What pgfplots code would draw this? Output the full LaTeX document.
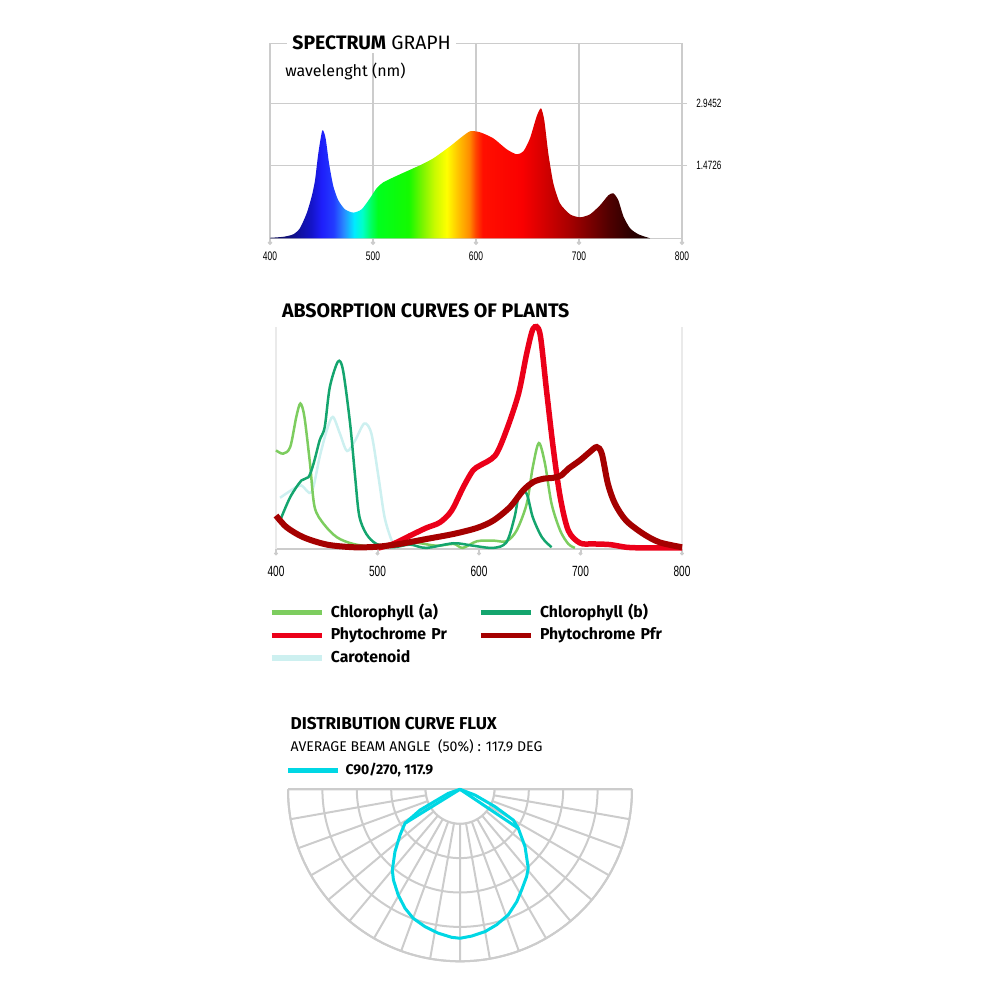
\documentclass[border=0pt]{standalone}
\usepackage{pgfplots}
\pgfplotsset{compat=1.18}
\usepgfplotslibrary{polar}
\usepackage{fontspec}
\setmainfont{Fira Sans}
\newfontfamily\tickfont[FakeStretch=0.68]{Liberation Sans}

\definecolor{gridgray}{RGB}{204,204,204}
\definecolor{faint}{RGB}{234,234,234}
\definecolor{chla}{RGB}{125,205,95}
\definecolor{chlb}{RGB}{20,165,110}
\definecolor{carot}{RGB}{205,240,240}
\definecolor{phyr}{RGB}{235,0,25}
\definecolor{phyfr}{RGB}{165,0,0}
\definecolor{beam}{RGB}{0,215,228}

\definecolor{s400}{RGB}{10,10,80}
\definecolor{s420}{RGB}{15,15,130}
\definecolor{s440}{RGB}{20,20,200}
\definecolor{s450}{RGB}{30,30,250}
\definecolor{s462}{RGB}{35,60,255}
\definecolor{s472}{RGB}{40,140,255}
\definecolor{s482}{RGB}{0,235,255}
\definecolor{s490}{RGB}{0,255,200}
\definecolor{s498}{RGB}{0,255,100}
\definecolor{s505}{RGB}{0,255,30}
\definecolor{s535}{RGB}{20,250,0}
\definecolor{s548}{RGB}{120,245,0}
\definecolor{s560}{RGB}{200,250,0}
\definecolor{s572}{RGB}{255,255,0}
\definecolor{s582}{RGB}{255,200,0}
\definecolor{s592}{RGB}{255,140,0}
\definecolor{s600}{RGB}{255,70,0}
\definecolor{s607}{RGB}{255,15,0}
\definecolor{s645}{RGB}{250,0,0}
\definecolor{s665}{RGB}{215,0,0}
\definecolor{s690}{RGB}{170,0,0}
\definecolor{s710}{RGB}{125,0,0}
\definecolor{s730}{RGB}{80,0,0}
\definecolor{s750}{RGB}{45,0,0}
\definecolor{s770}{RGB}{25,0,0}

\pgfdeclarehorizontalshading{spectrum}{100bp}{%
color(0bp)=(s400); color(25bp)=(s400); color(27.703bp)=(s420);
color(30.405bp)=(s440); color(31.757bp)=(s450); color(33.378bp)=(s462);
color(34.73bp)=(s472); color(36.081bp)=(s482); color(37.162bp)=(s490);
color(38.243bp)=(s498); color(39.189bp)=(s505); color(43.243bp)=(s535);
color(45bp)=(s548); color(46.622bp)=(s560); color(48.243bp)=(s572);
color(49.595bp)=(s582); color(51.216bp)=(s592); color(52.027bp)=(s600);
color(52.973bp)=(s607); color(58.108bp)=(s645); color(60.811bp)=(s665);
color(64.189bp)=(s690); color(66.892bp)=(s710); color(69.595bp)=(s730);
color(72.297bp)=(s750); color(75bp)=(s770); color(100bp)=(s770)}

\begin{document}
\begin{tikzpicture}
\useasboundingbox (0pt,0pt) rectangle (500pt,-500pt);

% ---------------- Spectrum graph ----------------
\begin{axis}[
 at={(135pt,-119.15pt)}, anchor=south west,
 scale only axis, width=206pt, height=97.5pt,
 xmin=400, xmax=800, ymin=0, ymax=195,
 axis line style={draw=gridgray, line width=0.75pt},
 xtick={400,500,600,700,800}, xticklabels={400,500,600,700,800},
 ytick={73,135}, yticklabels={1.4726,2.9452},
 xtick pos=bottom, ytick pos=right, yticklabel pos=right,
 grid=major, major grid style={draw=gridgray, line width=0.75pt},
 tick align=outside, major tick length=2.5pt,
 tick style={draw=gridgray, line width=0.75pt},
 xticklabel style={font=\tickfont\fontsize{6.2}{7}\selectfont, inner sep=0pt, anchor=north, yshift=-4pt},
 yticklabel style={font=\tickfont\fontsize{6}{6.5}\selectfont, inner sep=0pt, anchor=west, xshift=4.5pt},
 clip=false,
]
\addplot[draw=none, shade, shading=spectrum, smooth, tension=0.4] table {
x y
400 0.5
413 1.5
422.6 4
429 10
435.6 25
440.5 42
443.7 58
446.9 85
450.8 108
454 100
457.3 75
461.5 52
466.3 38
472.8 29
480.9 25.7
489 29
497 40
503.5 50
510 56
526.2 64
545.6 73
558.6 80
574.8 92
584.5 100
594.2 107
603.9 106
616.8 100
629.8 89
639.5 84
646 87
652.4 100
658.9 122
663.1 130
666.3 118
670.2 85
675.1 55
681.5 35
691.3 24
701 21
710.7 24
720.4 33
728.5 43
733.4 45
738.2 38
743.1 22
749.6 10
757.7 4
769 0
} \closedcycle;
\addplot[only marks, mark=*, mark size=0.9pt, gridgray] coordinates {(400,-4.5) (500,-4.5) (600,-4.5) (700,-4.5) (800,-4.5)};
\end{axis}

% ---------------- Absorption curves ----------------
\begin{axis}[
 at={(138pt,-274.5pt)}, anchor=south west,
 scale only axis, width=203pt, height=110.85pt,
 xmin=400, xmax=800, ymin=0, ymax=10,
 axis x line*=bottom, axis y line=none,
 axis line style={draw=gridgray, line width=1pt},
 xtick={400,500,600,700,800}, xticklabels={400,500,600,700,800},
 ytick={1,2,3,4,5,6,7,8,9,10}, yticklabels={},
 ymajorgrids, major grid style={draw=faint, line width=0.6pt},
 extra x ticks={400,800}, extra x tick labels={},
 extra x tick style={grid=major, major tick length=0pt},
 tick align=outside, major tick length=2pt,
 tick style={draw=gridgray, line width=1pt},
 xticklabel style={font=\tickfont\fontsize{7.4}{8}\selectfont, inner sep=0pt, anchor=north, yshift=-6.5pt},
 clip=false,
 legend columns=2,
 legend style={at={(-0.0187,-0.2512)}, anchor=north west, draw=none, fill=none,
   inner sep=0pt, row sep=3.9pt, font=\bfseries\fontsize{7.9}{9}\selectfont,
   nodes={inner sep=0pt, text width=69pt, text height=6pt, text depth=1.5pt},
   /tikz/every odd column/.append style={column sep=3.2pt},
   /tikz/every even column/.append style={column sep=4.6pt}},
 legend image code/.code={\draw[#1, line width=2.8pt] (0pt,0pt) -- (25pt,0pt);},
]
\addlegendimage{chla}
\addlegendentry{Chlorophyll (a)}
\addlegendimage{chlb}
\addlegendentry{Chlorophyll (b)}
\addlegendimage{phyr}
\addlegendentry{Phytochrome Pr}
\addlegendimage{phyfr}
\addlegendentry{Phytochrome Pfr}
\addlegendimage{carot}
\addlegendentry{Carotenoid}

\addplot[carot, line width=1.25pt, smooth, tension=0.5, forget plot] coordinates {
(404,2.31) (417,2.71) (425,2.87) (435,2.56) (443,4.15) (450,5.35) (456,5.96) (463,5.2) (470,4.42) (478,4.9) (487,5.66) (494,5.2) (501,3.24) (507,1.43) (514,0.38) (519,0.05)};
\addplot[chla, line width=1.25pt, smooth, tension=0.5, forget plot] coordinates {
(400,4.45) (407,4.3) (414,4.6) (420,5.96) (424,6.56) (428,5.96) (433.5,3.85) (438,1.9) (447,1.13) (460,0.53) (476,0.23) (499,0.08) (522,0.15) (535,0.3) (558,0.15) (575,0.23) (584,0.05) (598,0.35) (614,0.38) (627,0.35) (637,0.83) (647,2.04) (653,3.7) (659,4.78) (665,3.85) (671.5,2.04) (680,0.83) (688,0.23) (694.5,0.05)};
\addplot[chlb, line width=1.25pt, smooth, tension=0.5, forget plot] coordinates {
(404,1.28) (414,2.34) (425,3.09) (432,3.24) (437,3.85) (443,4.9) (448,5.5) (453,7.3) (461,8.45) (466,8.07) (473,5.66) (478,3.24) (482,1.5) (489,0.68) (499,0.23) (515.5,0.08) (532,0.2) (548,0.05) (575,0.26) (594,0.15) (614,0.05) (627,0.3) (635,1.43) (640,2.56) (647,2.49) (653,1.43) (662,0.53) (671.5,0.08)};
\addplot[phyr, line width=2.75pt, smooth, tension=0.5, forget plot] coordinates {
(501,0.05) (515.5,0.23) (532,0.6) (548,0.95) (561.5,1.2) (573,1.73) (584.5,2.79) (594,3.54) (601,3.77) (616,4.22) (627,5.35) (639,7.01) (647,8.82) (653.5,9.95) (660,9.73) (666.5,7.16) (673,4.6) (680,2.34) (688,0.83) (699.5,0.27) (712.5,0.23) (729,0.2) (745,0.08) (762,0.05) (800,0.05)};
\addplot[phyfr, line width=3pt, smooth, tension=0.5, forget plot] coordinates {
(400,1.51) (410.5,0.98) (427,0.53) (450,0.2) (476,0.08) (499,0.1) (522,0.23) (548,0.45) (575,0.68) (598,0.95) (614,1.28) (630.5,1.89) (643.5,2.64) (653.5,3.02) (663.5,3.17) (673,3.21) (681,3.32) (688,3.62) (699.5,4.0) (709,4.37) (716,4.6) (721,4.3) (727,2.94) (734,2.04) (745,1.28) (762,0.68) (778,0.3) (800,0.08)};
\addplot[only marks, mark=*, mark size=0.8pt, gridgray, forget plot] coordinates {(400,-0.2) (500,-0.2) (600,-0.2) (700,-0.2) (800,-0.2)};
\end{axis}

% ---------------- Distribution curve flux ----------------
\begin{polaraxis}[
 at={(230pt,-394.65pt)}, anchor=origin,
 scale only axis, width=172pt,
 xmin=180, xmax=360, ymin=0, ymax=5,
 xtick={180,190,...,360}, ytick={1,2,3,4,5},
 xticklabels={}, yticklabels={},
 major tick length=0pt,
 grid=major,
 major grid style={draw=gridgray, line width=1pt},
 axis line style={draw=gridgray, line width=1pt},
 clip=false,
 legend style={at={(axis cs:173.92,5.107)}, anchor=west, draw=none, fill=none,
   inner sep=0pt, font=\bfseries\fontsize{7}{8}\selectfont,
   nodes={inner sep=0pt},
   /tikz/every odd column/.append style={column sep=2.5pt}},
 legend image code/.code={\draw[#1, line width=2.5pt] (0pt,0pt) -- (25pt,0pt);},
]
\addplot[fill=white, draw=gridgray, line width=1pt, forget plot] coordinates {
(180,1) (185,1) (190,1) (195,1) (200,1) (205,1) (210,1) (215,1) (220,1) (225,1)
(230,1) (235,1) (240,1) (245,1) (250,1) (255,1) (260,1) (265,1) (270,1) (275,1)
(280,1) (285,1) (290,1) (295,1) (300,1) (305,1) (310,1) (315,1) (320,1) (325,1)
(330,1) (335,1) (340,1) (345,1) (350,1) (355,1) (360,1)};
\addplot[gridgray, line width=1pt, forget plot] coordinates {(180,5) (360,5)};
\addplot[beam, line width=1.5pt, line join=round] coordinates {
(199,0) (199,0.36) (207.4,1.31) (211.7,1.88) (217.3,2.19) (223.8,2.62) (230,3.06)
(233.7,3.27) (239.7,3.56) (245.2,3.81) (250.1,3.99) (255.7,4.12) (261.4,4.23)
(266.8,4.31) (270,4.33) (274.6,4.28) (280,4.2) (285.1,4.08) (291,3.91) (296.8,3.66)
(301.5,3.43) (307.4,3.19) (310.9,3.03) (318.6,2.52) (326.2,2.04) (330,1.79)
(333.7,1.13) (339,0.47) (339,0)};
\addlegendentry{C90/270, 117.9}
\addplot[beam, line width=1.5pt, line join=round, forget plot] coordinates {(211.7,1.88) (270,0) (326.2,2.04)};
\end{polaraxis}

% ---------------- Titles ----------------
\node[anchor=base west, fill=white, inner xsep=2.5pt, inner ysep=1.5pt, font=\fontsize{9.7}{11}\selectfont] at (143.5pt,-25pt) {\textbf{SPECTRUM} GRAPH\hspace{2pt}};
\node[anchor=base west, inner sep=0pt, font=\fontsize{8}{9}\selectfont] at (142.5pt,-38.35pt) {wavelenght (nm)};
\node[anchor=base west, inner sep=0pt, font=\bfseries\fontsize{9.8}{11}\selectfont] at (140.85pt,-158.85pt) {ABSORPTION CURVES OF PLANTS};
\node[anchor=base west, inner sep=0pt, font=\bfseries\fontsize{8.6}{10}\selectfont] at (145.1pt,-364.65pt) {DISTRIBUTION CURVE FLUX};
\node[anchor=base west, inner sep=0pt, font=\fontsize{7.05}{8}\selectfont] at (145.1pt,-375.5pt) {AVERAGE BEAM ANGLE~~(50\%) : 117.9 DEG};
\end{tikzpicture}
\end{document}
